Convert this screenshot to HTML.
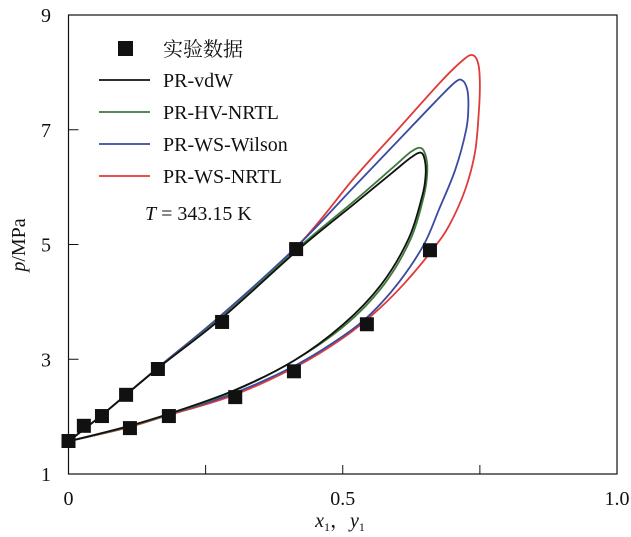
<!DOCTYPE html>
<html><head><meta charset="utf-8"><style>
body{margin:0;background:#fff}
svg{display:block;font-family:"Liberation Serif","Noto Serif CJK SC",serif}
</style></head><body>
<svg id="c" width="631" height="537" viewBox="0 0 631 537"></svg>
<script>
const xTicks=[0,0.5,1.0];
const xTickLabels=["0","0.5","1.0"];
const yTicks=[1,3,5,7,9];
const yTickLabels=["1","3","5","7","9"];
const expX=[0,0.028,0.061,0.105,0.163,0.28,0.415,0.112,0.183,0.304,0.411,0.544,0.659];
const expP=[1.575,1.84,2.01,2.38,2.83,3.65,4.92,1.80,2.01,2.34,2.79,3.61,4.90];
const vdwX=[0,0.06,0.16,0.28,0.42,0.52,0.59,0.625,0.643,0.65,0.651,0.645,0.62,0.57,0.5,0.41,0.3,0.18,0.1,0];
const vdwP=[1.57,2.02,2.82,3.72,4.92,5.7,6.25,6.52,6.6,6.45,6.2,5.85,5.1,4.3,3.6,2.97,2.45,2.04,1.81,1.57];
const hvX=[0,0.06,0.16,0.28,0.42,0.52,0.59,0.625,0.643,0.652,0.654,0.648,0.624,0.575,0.505,0.41,0.3,0.18,0.1,0];
const hvP=[1.57,2.02,2.82,3.74,4.95,5.75,6.33,6.62,6.68,6.52,6.25,5.85,5.1,4.3,3.6,2.97,2.44,2.03,1.8,1.57];
const wilX=[0,0.06,0.16,0.28,0.42,0.52,0.6,0.67,0.705,0.718,0.727,0.729,0.725,0.705,0.675,0.648,0.603,0.552,0.5,0.415,0.3,0.18,0.1,0];
const wilP=[1.57,2.02,2.83,3.78,5.0,6.0,6.8,7.5,7.83,7.86,7.7,7.4,7.0,6.3,5.6,5.0,4.35,3.8,3.4,2.9,2.4,2.03,1.8,1.57];
const nrX=[0,0.06,0.16,0.28,0.42,0.52,0.6,0.68,0.72,0.737,0.747,0.75,0.748,0.741,0.723,0.695,0.667,0.615,0.563,0.502,0.417,0.3,0.18,0.1,0];
const nrP=[1.57,2.02,2.83,3.78,5.0,6.15,7.0,7.85,8.22,8.3,8.15,7.8,7.3,6.6,5.95,5.35,4.95,4.35,3.85,3.38,2.88,2.37,2.02,1.79,1.57];

const L=68.5,R=617,T=15,B=474;
const sx=v=>L+v*(R-L);
const sy=v=>B-(v-1)/8*(B-T);
const svg=document.getElementById('c');
const NS='http://www.w3.org/2000/svg';
function mk(tag,attrs,parent){const e=document.createElementNS(NS,tag);for(const k in attrs)e.setAttribute(k,attrs[k]);(parent||svg).appendChild(e);return e;}
function txt(x,y,s,size,anchor,parent){const t=mk('text',{x:x,y:y,'font-size':size,'text-anchor':anchor||'start',fill:'#111'},parent);t.textContent=s;return t;}

let fr=mk('rect',{x:L,y:T,width:R-L,height:B-T,fill:'none',stroke:'#111','stroke-width':1.2});



const xg=mk('g',{});


[0,0.25,0.5,0.75,1].forEach(v=>{mk('line',{x1:sx(v),x2:sx(v),y1:B,y2:B-9,stroke:'#111','stroke-width':1},xg);});
xTicks.forEach((v,i)=>{const t=txt(sx(v),505,xTickLabels[i],20,'middle',xg);

});
const yg=mk('g',{});


yTicks.forEach((v,i)=>{mk('line',{x1:L,x2:L+10,y1:sy(v),y2:sy(v),stroke:'#111','stroke-width':1},yg);
const t=txt(46,sy(v)+7,yTickLabels[i],20,'middle',yg);

});

const xt=mk('text',{x:340,y:527,'font-size':20,'text-anchor':'middle',fill:'#111'});
xt.innerHTML='<tspan font-style="italic">x</tspan><tspan font-size="12" dy="4">1</tspan><tspan dy="-4">，</tspan><tspan font-style="italic">y</tspan><tspan font-size="12" dy="4">1</tspan>';


const yt=mk('text',{x:0,y:0,'font-size':20,'text-anchor':'middle',fill:'#111',transform:'translate(25,245) rotate(-90)'});
yt.innerHTML='<tspan font-style="italic">p</tspan>/MPa';



function smooth(xs,ps){const pts=xs.map((x,i)=>[sx(x),sy(ps[i])]);let d='M'+pts[0][0]+','+pts[0][1];
for(let i=0;i<pts.length-1;i++){const p0=pts[Math.max(0,i-1)],p1=pts[i],p2=pts[i+1],p3=pts[Math.min(pts.length-1,i+2)];
const c1=[p1[0]+(p2[0]-p0[0])/6,p1[1]+(p2[1]-p0[1])/6],c2=[p2[0]-(p3[0]-p1[0])/6,p2[1]-(p3[1]-p1[1])/6];
d+=' C'+c1[0]+','+c1[1]+' '+c2[0]+','+c2[1]+' '+p2[0]+','+p2[1];}return d;}
const series=[[nrX,nrP,'#e03a3a','curve-pr-ws-nrtl'],[wilX,wilP,'#3a4aa0','curve-pr-ws-wilson'],[hvX,hvP,'#3f7a3a','curve-pr-hv-nrtl'],[vdwX,vdwP,'#111','curve-pr-vdw']];
series.forEach(s=>{const p=mk('path',{d:smooth(s[0],s[1]),fill:'none',stroke:s[2],'stroke-width':1.8});

});
expX.forEach((x,i)=>{const r=mk('rect',{x:sx(x)-7,y:sy(expP[i])-7,width:14,height:14,fill:'#111'});

});

const lg=mk('g',{});


mk('rect',{x:118,y:41,width:15,height:15,fill:'#111'},lg);
txt(163,56,'实验数据',20,'start',lg);
const leg=[['PR-vdW','#111',80],['PR-HV-NRTL','#3f7a3a',112],['PR-WS-Wilson','#3a4aa0',144],['PR-WS-NRTL','#e03a3a',176]];
leg.forEach(l=>{mk('line',{x1:99,x2:150,y1:l[2],y2:l[2],stroke:l[1],'stroke-width':1.8},lg);txt(163,l[2]+7,l[0],20,'start',lg);});
const tt=mk('text',{x:145,y:220,'font-size':20,fill:'#111'});
tt.innerHTML='<tspan font-style="italic">T</tspan> = 343.15 K';


</script>
</body></html>
